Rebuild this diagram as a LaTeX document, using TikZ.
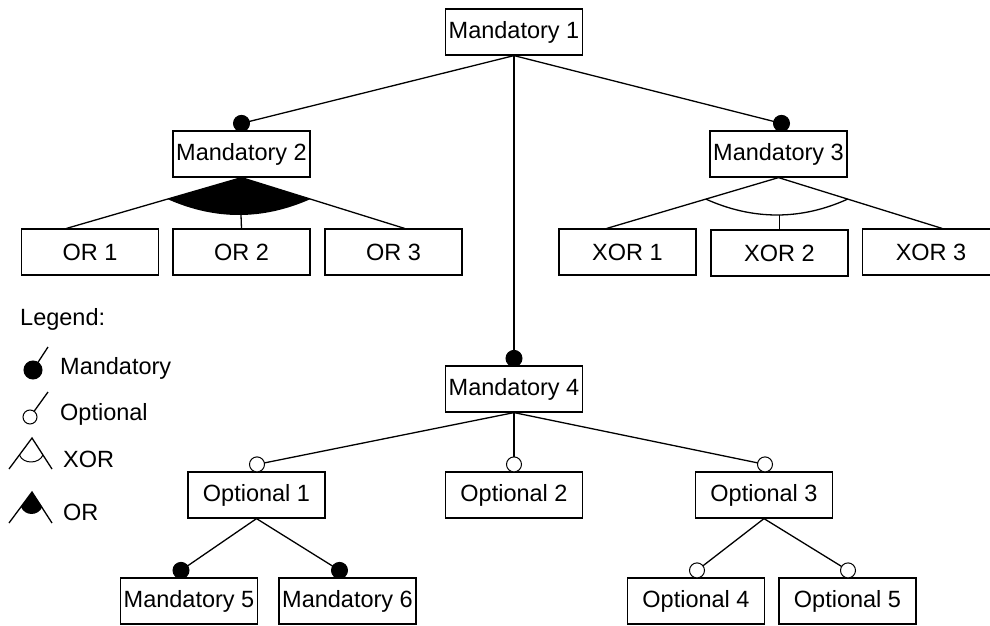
\documentclass[tikz,border=0pt]{standalone}
\usepackage{fontspec}
\setmainfont{Liberation Sans}
\usetikzlibrary{calc}
\tikzset{
  feat/.style={draw, line width=1.2pt, minimum width=137pt, minimum height=46pt,
    inner sep=0pt, font=\fontsize{23.5}{28}\selectfont},
  conn/.style={line width=1.3pt},
  mandmark/.style={fill=black, draw=black, line width=1pt},
  optmark/.style={fill=white, draw=black, line width=1pt},
  legtext/.style={inner sep=0pt, anchor=base west, font=\fontsize{23.5}{28}\selectfont}
}
\begin{document}
\begin{tikzpicture}[x=1pt,y=-1pt]
\useasboundingbox (0,0) rectangle (990,626);

% feature boxes
\node[feat] (m1) at (514,32) {Mandatory 1};
\node[feat] (m2) at (241.5,154) {Mandatory 2};
\node[feat] (m3) at (778.5,154) {Mandatory 3};
\node[feat] (or1) at (90,252) {OR 1};
\node[feat] (or2) at (241.5,252) {OR 2};
\node[feat] (or3) at (393.5,252) {OR 3};
\node[feat] (xor1) at (627.5,252) {XOR 1};
\node[feat] (xor2) at (779.5,253) {XOR 2};
\node[feat] (xor3) at (931,252) {XOR 3};
\node[feat] (m4) at (514,389) {Mandatory 4};
\node[feat] (op1) at (256.5,495) {Optional 1};
\node[feat] (op2) at (514,495) {Optional 2};
\node[feat] (op3) at (764,495) {Optional 3};
\node[feat] (m5) at (189,601) {Mandatory 5};
\node[feat] (m6) at (347.5,601) {Mandatory 6};
\node[feat] (op4) at (696,601) {Optional 4};
\node[feat] (op5) at (847.5,601) {Optional 5};

% attachment points of the mandatory / optional markers
\coordinate (c2) at ($(m2.north)+(0,-7)$);
\coordinate (c3) at ($(m3.north)+(3,-7)$);
\coordinate (c4) at ($(m4.north)+(0,-7)$);
\coordinate (c5) at ($(m5.north)+(-8,-7)$);
\coordinate (c6) at ($(m6.north)+(-8,-7)$);
\coordinate (d1) at ($(op1.north)+(0.5,-7)$);
\coordinate (d2) at ($(op2.north)+(0,-7)$);
\coordinate (d3) at ($(op3.north)+(1,-7)$);
\coordinate (d4) at ($(op4.north)+(1,-7)$);
\coordinate (d5) at ($(op5.north)+(0.5,-7)$);

% edges to mandatory children
\draw[conn] (m1.south) -- (c2);
\draw[conn] (m1.south) -- (c3);
\draw[conn] (m1.south) -- (c4);
\draw[conn] (op1.south) -- (c5);
\draw[conn] (op1.south) -- (c6);
% edges to optional children
\draw[conn] (m4.south) -- (d1);
\draw[conn] (m4.south) -- (d2);
\draw[conn] (m4.south) -- (d3);
\draw[conn] (op3.south) -- (d4);
\draw[conn] (op3.south) -- (d5);

\foreach \c in {c2,c3,c4,c5,c6} \filldraw[mandmark] (\c) circle[radius=8pt];
\foreach \c in {d1,d2,d3,d4,d5} \filldraw[optmark] (\c) circle[radius=7.5pt];

% OR group under Mandatory 2
\coordinate (or1top) at ($(or1.north west)!0.33!(or1.north east)$);
\coordinate (or3top) at ($(or3.north west)!0.58!(or3.north east)$);
\coordinate (orL) at ($(m2.south)!0.423!(or1top)$);
\coordinate (orR) at ($(m2.south)!0.423!(or3top)$);
\coordinate (orlow) at (241,215);
\fill (m2.south) -- (orL) .. controls (215,220.3) and (262.7,220.3) .. (orR) -- cycle;
\draw[conn] (m2.south) -- (or1top);
\draw[conn] (m2.south) -- (or3top);
\draw[conn] (orlow) -- (or2.north);

% XOR group under Mandatory 3
\coordinate (xor1top) at ($(xor1.north west)!0.35!(xor1.north east)$);
\coordinate (xor3top) at ($(xor3.north west)!0.58!(xor3.north east)$);
\coordinate (xorL) at ($(m3.south)!0.423!(xor1top)$);
\coordinate (xorR) at ($(m3.south)!0.423!(xor3top)$);
\coordinate (xorlow) at (779.5,215);
\draw[conn] (m3.south) -- (xor1top);
\draw[conn] (m3.south) -- (xor3top);
\draw[conn] (xorL) .. controls (753,220.3) and (801,220.3) .. (xorR);
\draw[conn] (xorlow) -- (xor2.north);

% legend
\node[legtext] (legtitle) at (20,325) {Legend:};
\node[legtext] (legmand) at (60,374) {Mandatory};
\node[legtext] (legopt) at (60,420) {Optional};
\node[legtext] (legxor) at (63,467) {XOR};
\node[legtext] (legor) at (63,520) {OR};

\draw[conn] (33,370) -- (48,347);
\filldraw[mandmark] (33,370) circle[radius=9pt];
\draw[conn] (30,417) -- (48,392);
\filldraw[optmark] (30,417) circle[radius=7pt];

\draw[conn] (9,469) -- (32,438) -- (52,469);
\draw[line width=1pt] (19.5,455) .. controls (23,464.3) and (39,464.3) .. (43,455);

\fill (32,492) -- (21,507) .. controls (25,516.3) and (38,516.3) .. (42.3,507) -- cycle;
\draw[conn] (9,523) -- (32,492) -- (52,523);
\end{tikzpicture}
\end{document}
